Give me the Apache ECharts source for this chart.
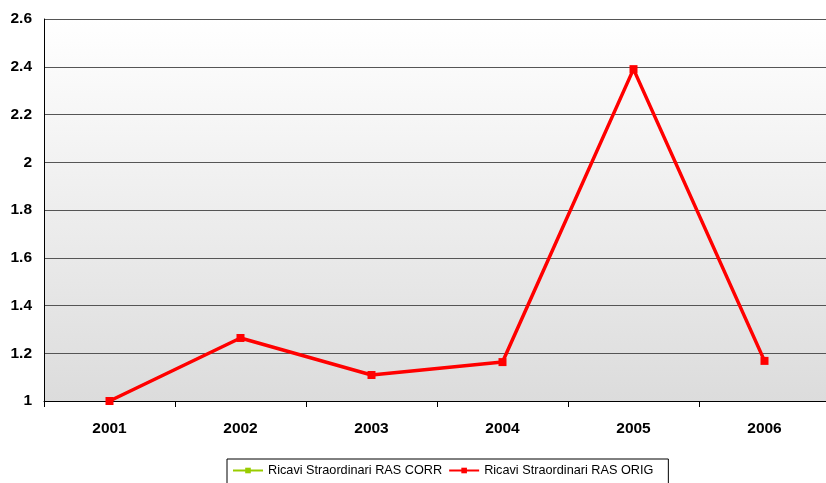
<!DOCTYPE html>
<html>
<head>
<meta charset="utf-8">
<script src="https://cdn.jsdelivr.net/npm/echarts@6/dist/echarts.min.js"></script>
<style>
  html, body { margin: 0; padding: 0; background: #fff; overflow: hidden; }
  /* plot area runs slightly past the right edge of the window */
  #chart { width: 830px; height: 483px; }
</style>
</head>
<body>
<div id="chart"></div>
<script>
// Extraordinary revenues by year, two RAS series
const years = ['2001', '2002', '2003', '2004', '2005', '2006'];
const rasCorr = [1.0, 1.264, 1.109, 1.163, 2.39, 1.168];
const rasOrig = [1.0, 1.264, 1.109, 1.163, 2.39, 1.168];
const seriesNames = ['Ricavi Straordinari RAS CORR', 'Ricavi Straordinari RAS ORIG'];
const yTicks = { min: 1, max: 2.6, step: 0.2 };

const chart = echarts.init(document.getElementById('chart'), null, { renderer: 'canvas' });

const labelFont = { fontFamily: 'Liberation Sans, Arial, sans-serif', fontWeight: 'bold', fontSize: 15.5, color: '#000' };

chart.setOption({
  animation: false,
  backgroundColor: '#fff',
  grid: {
    left: 44, right: 0, top: 19, bottom: 82,
    show: true,
    borderWidth: 0,
    backgroundColor: new echarts.graphic.LinearGradient(0, 0, 0, 1, [
      { offset: 0, color: '#ffffff' },
      { offset: 1, color: '#dcdcdc' }
    ])
  },
  legend: {
    data: seriesNames,
    top: 459,
    left: 227,
    itemWidth: 30,
    itemHeight: 7,
    itemGap: 6,
    borderColor: '#000',
    borderWidth: 1,
    borderRadius: 0,
    padding: [5, 15, 8, 5],
    textStyle: { fontFamily: 'Liberation Sans, Arial, sans-serif', fontSize: 12.7, color: '#000' }
  },
  xAxis: {
    type: 'category',
    data: years,
    boundaryGap: true,
    axisLine: { show: true, lineStyle: { color: '#000', width: 1 } },
    axisTick: { show: true, length: 6, inside: false, lineStyle: { color: '#000' } },
    axisLabel: Object.assign({ margin: 20 }, labelFont),
    splitLine: { show: false }
  },
  yAxis: {
    type: 'value',
    min: yTicks.min,
    max: yTicks.max,
    interval: yTicks.step,
    axisLine: { show: true, lineStyle: { color: '#000', width: 1 } },
    axisTick: { show: false },
    axisLabel: Object.assign({ margin: 12, formatter: v => String(+v.toFixed(1)) }, labelFont),
    splitLine: { show: true, lineStyle: { color: '#555', width: 1 } }
  },
  series: [
    {
      name: seriesNames[0],
      type: 'line',
      data: rasCorr,
      color: '#99cc00',
      symbol: 'rect',
      symbolSize: 6,
      lineStyle: { width: 2, color: '#99cc00' },
      itemStyle: { color: '#99cc00' },
      z: 2
    },
    {
      name: seriesNames[1],
      type: 'line',
      data: rasOrig,
      color: '#ff0000',
      symbol: 'rect',
      symbolSize: 8,
      lineStyle: { width: 3.5, color: '#ff0000' },
      itemStyle: { color: '#ff0000' },
      z: 3
    }
  ]
});
</script>
</body>
</html>
